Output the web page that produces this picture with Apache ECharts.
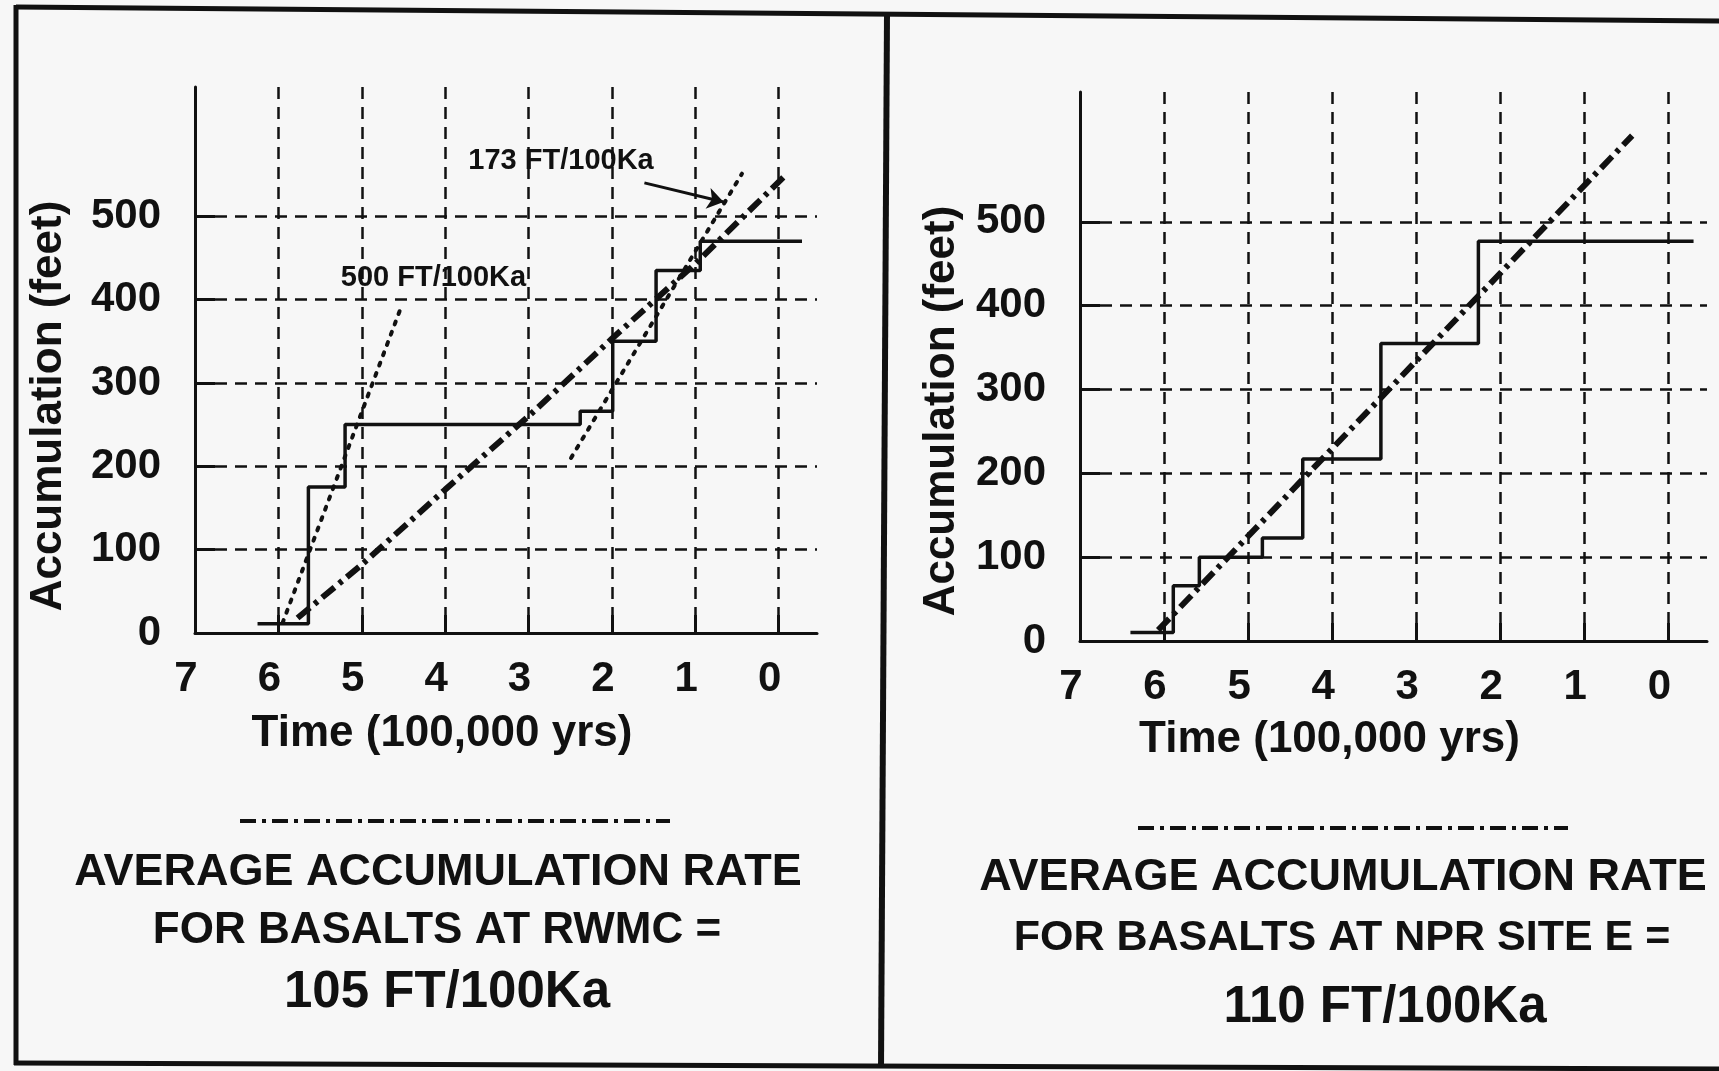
<!DOCTYPE html>
<html>
<head>
<meta charset="utf-8">
<title>Basalt accumulation rates</title>
<script src="https://cdn.jsdelivr.net/npm/echarts@6/dist/echarts.min.js"></script>
<style>
  html, body { margin: 0; padding: 0; background: #f7f7f7; }
  #accumulation { width: 1719px; height: 1071px; }
</style>
</head>
<body>
<div id="accumulation"></div>
<script>
const FONT = "'Liberation Sans', Arial, Helvetica, sans-serif";
const INK = "#111";

// axis ticks (time in 100,000 yrs, accumulation in feet)
const timeTicks = [0, 1, 2, 3, 4, 5, 6];
const timeLabels = [0, 1, 2, 3, 4, 5, 6, 7];
const feetTicks = [100, 200, 300, 400, 500];
const feetLabels = [0, 100, 200, 300, 400, 500];

// RWMC
const rwmcStepTime = [6.25, 5.64, 5.20, 2.38, 1.99, 1.47, 0.94, -0.28];
const rwmcStepFeet = [11, 175, 250, 266, 350, 435, 470, 470];
const rwmcAvgTime = [5.77, 5.0, 4.0, 3.0, 2.0, 1.0, -0.06];
const rwmcAvgFeet = [18, 82, 172, 260, 353, 443, 547];
const rwmcFastTime = [5.95, 4.52];
const rwmcFastFeet = [12, 393];
const rwmcRecentTime = [2.49, 0.44];
const rwmcRecentFeet = [210, 551];

// NPR site E
const nprStepTime = [6.40, 5.89, 5.58, 4.83, 4.35, 3.42, 2.26, -0.30];
const nprStepFeet = [10, 66, 100, 123, 217, 355, 477, 477];
const nprAvgTime = [6.07, 0.43];
const nprAvgFeet = [13, 603];

const pairs = (xs, ys) => xs.map((x, i) => [x, ys[i]]);

function timeAxis(gridIndex, nameGap, labelMargin) {
  return {
    type: "value",
    gridIndex: gridIndex,
    inverse: true,
    min: -0.46,
    max: 7,
    name: "Time (100,000 yrs)",
    nameLocation: "middle",
    nameGap: nameGap,
    nameMoveOverlap: false,
    nameTextStyle: {
      color: INK, fontSize: 44, fontWeight: "bold", fontFamily: FONT,
      padding: [0, 128, 0, 0]
    },
    axisLine: { onZero: false, lineStyle: { color: INK, width: 3 } },
    axisTick: {
      inside: true, length: 18, customValues: timeTicks,
      lineStyle: { color: INK, width: 3 }
    },
    axisLabel: {
      customValues: timeLabels, margin: labelMargin,
      color: INK, fontSize: 42, fontWeight: "bold", fontFamily: FONT,
      padding: [0, 18, 0, 0]
    },
    splitLine: {
      show: true,
      lineStyle: { color: INK, width: 2.5, type: [12, 8] }
    }
  };
}

function feetAxis(gridIndex, nameGap, shift) {
  return {
    type: "value",
    gridIndex: gridIndex,
    min: 0,
    max: 655,
    name: "Accumulation (feet)",
    nameLocation: "middle",
    nameGap: nameGap,
    nameMoveOverlap: false,
    nameTextStyle: {
      color: INK, fontSize: 44, fontWeight: "bold", fontFamily: FONT,
      padding: [0, shift, 0, 0]
    },
    axisLine: { onZero: false, lineStyle: { color: INK, width: 3 } },
    axisTick: {
      inside: true, length: 20, customValues: feetTicks,
      lineStyle: { color: INK, width: 3 }
    },
    axisLabel: {
      customValues: feetLabels, margin: 34,
      color: INK, fontSize: 42, fontWeight: "bold", fontFamily: FONT
    },
    splitLine: {
      show: true,
      lineStyle: { color: INK, width: 2.5, type: [12, 8] }
    }
  };
}

function lineSeries(axisIndex, data, lineStyle, step) {
  return {
    type: "line",
    xAxisIndex: axisIndex,
    yAxisIndex: axisIndex,
    data: data,
    step: step || false,
    symbol: "none",
    silent: true,
    lineStyle: Object.assign({ color: INK }, lineStyle)
  };
}

const dashDot = [16, 6, 4, 6];
const dotted = [3, 8];

function caption(x, y, text, size) {
  return {
    type: "text",
    x: x,
    y: y,
    style: {
      text: text,
      fill: INK,
      font: "bold " + size + "px " + FONT,
      align: "center",
      verticalAlign: "middle"
    }
  };
}

function rule(x1, y1, x2, y2, width, dash) {
  return {
    type: "line",
    shape: { x1: x1, y1: y1, x2: x2, y2: y2 },
    style: { stroke: INK, lineWidth: width, lineDash: dash || null }
  };
}

let chart = echarts.init(document.getElementById("accumulation"));

let option = {
  backgroundColor: "#f7f7f7",
  animation: false,
  grid: [
    { left: 195, top: 87, width: 622, height: 546, outerBoundsMode: "none" },
    { left: 1080, top: 92, width: 627, height: 549, outerBoundsMode: "none" }
  ],
  xAxis: [timeAxis(0, 79, 25), timeAxis(1, 77, 25)],
  yAxis: [feetAxis(0, 124, 92), feetAxis(1, 116, 89)],
  series: [
    lineSeries(0, pairs(rwmcStepTime, rwmcStepFeet), { width: 3.5 }, "end"),
    lineSeries(0, pairs(rwmcAvgTime, rwmcAvgFeet), { width: 6, type: dashDot }),
    lineSeries(0, pairs(rwmcFastTime, rwmcFastFeet), { width: 4, type: dotted, cap: "round" }),
    lineSeries(0, pairs(rwmcRecentTime, rwmcRecentFeet), { width: 4, type: dotted, cap: "round" }),
    {
      type: "lines",
      coordinateSystem: "cartesian2d",
      xAxisIndex: 0,
      yAxisIndex: 0,
      silent: true,
      symbol: ["none", "arrow"],
      symbolSize: 16,
      lineStyle: { color: INK, width: 3, opacity: 1 },
      data: [{ coords: [[1.61, 540], [0.66, 517]] }]
    },
    {
      type: "scatter",
      xAxisIndex: 0,
      yAxisIndex: 0,
      symbolSize: 0,
      silent: true,
      itemStyle: { color: INK, opacity: 1 },
      label: {
        show: true,
        position: [0, 0],
        align: "center",
        verticalAlign: "middle",
        formatter: "{b}",
        color: INK,
        opacity: 1,
        textBorderWidth: 0,
        fontSize: 29,
        fontWeight: "bold",
        fontFamily: FONT
      },
      data: [
        { name: "173 FT/100Ka", value: [2.61, 566] },
        { name: "500 FT/100Ka", value: [4.14, 426] }
      ]
    },
    lineSeries(1, pairs(nprStepTime, nprStepFeet), { width: 3.5 }, "end"),
    lineSeries(1, pairs(nprAvgTime, nprAvgFeet), { width: 6, type: dashDot })
  ],
  graphic: [
    // panel frames
    rule(16, 7, 1719, 21, 5),
    rule(16, 5, 16, 1065, 5),
    rule(14, 1063, 1719, 1069, 5),
    rule(887, 14, 881, 1066, 6),
    // key line + captions
    rule(240, 821, 670, 821, 4, dashDot),
    caption(438, 873, "AVERAGE ACCUMULATION RATE", 45),
    caption(437, 931, "FOR BASALTS AT RWMC =", 44),
    caption(447, 993, "105 FT/100Ka", 51),
    rule(1138, 828, 1568, 828, 4, dashDot),
    caption(1343, 878, "AVERAGE ACCUMULATION RATE", 45),
    caption(1342, 938, "FOR BASALTS AT NPR SITE E =", 43),
    caption(1385, 1008, "110 FT/100Ka", 51)
  ]
};

chart.setOption(option);
</script>
</body>
</html>
